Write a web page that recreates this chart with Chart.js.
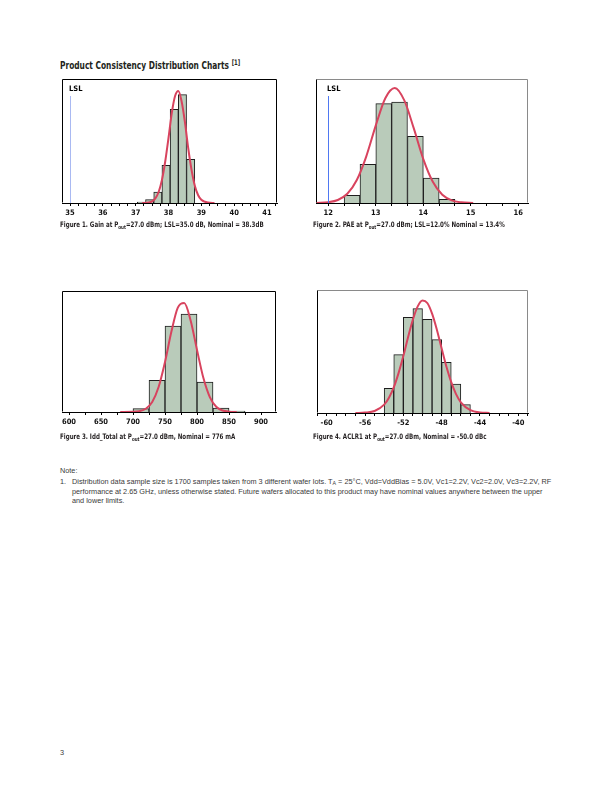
<!DOCTYPE html>
<html>
<head>
<meta charset="utf-8">
<script src="https://cdn.jsdelivr.net/npm/chart.js@4.4.0/dist/chart.umd.min.js"></script>
<style>
	body { margin: 0; background: #fff; }
	#page { position: relative; width: 612px; height: 792px; overflow: hidden; color: #231f20; }
	.cond { font-family: "Liberation Sans Narrow", "DejaVu Sans Condensed", sans-serif; font-weight: bold; transform-origin: 0 50%; }
	.abs { position: absolute; white-space: nowrap; line-height: 1; }
	canvas { position: absolute; }
	.title { left: 60px; top: 59px; font-size: 10.5px; transform: scaleX(0.79); }
	.title sup { font-size: 7.5px; vertical-align: 3.5px; }
	.cap { font-size: 7.5px; transform: scaleX(0.82); }
	.cap sub { font-size: 5.5px; vertical-align: -1.5px; }
	.note { font-family: "Liberation Sans", Arial, sans-serif; font-size: 7.3px; color: #3a3a3a; }
	.note sub { font-size: 5.3px; vertical-align: -1px; }
</style>
</head>
<body>
<div id="page">
	<div class="abs cond title">Product Consistency Distribution Charts <sup>[1]</sup></div>

	<canvas id="c1" width="235" height="156" style="left:52px; top:69px;"></canvas>
	<canvas id="c2" width="232" height="156" style="left:306px; top:69px;"></canvas>
	<canvas id="c3" width="234" height="153" style="left:52px; top:281px;"></canvas>
	<canvas id="c4" width="231" height="155" style="left:307px; top:280px;"></canvas>

	<div class="abs cond cap" style="left:60px; top:221px;">Figure 1. Gain at P<sub>out</sub>=27.0 dBm; LSL=35.0 dB, Nominal = 38.3dB</div>
	<div class="abs cond cap" style="left:313px; top:221px;">Figure 2. PAE at P<sub>out</sub>=27.0 dBm; LSL=12.0% Nominal = 13.4%</div>
	<div class="abs cond cap" style="left:60px; top:433px;">Figure 3. Idd_Total at P<sub>out</sub>=27.0 dBm, Nominal = 776 mA</div>
	<div class="abs cond cap" style="left:313px; top:433px;">Figure 4. ACLR1 at P<sub>out</sub>=27.0 dBm, Nominal = -50.0 dBc</div>

	<div class="abs note" style="left:60px; top:467px;">Note:</div>
	<div class="abs note" style="left:60px; top:478px;">1.</div>
	<div class="abs note" style="left:72px; top:478px;">Distribution data sample size is 1700 samples taken from 3 different wafer lots. T<sub>A</sub> = 25°C, Vdd=VddBias = 5.0V, Vc1=2.2V, Vc2=2.0V, Vc3=2.2V, RF</div>
	<div class="abs note" style="left:72px; top:488px;">performance at 2.65 GHz, unless otherwise stated. Future wafers allocated to this product may have nominal values anywhere between the upper</div>
	<div class="abs note" style="left:72px; top:497px;">and lower limits.</div>

	<div class="abs note" style="left:60px; top:749px;">3</div>
</div>

<script>
// histogram bins (left edge of each bin) and bar heights
const gainBins = [37.05, 37.3, 37.55, 37.8, 38.05, 38.3, 38.55];
const gainFreq = [1, 3.4, 11, 37.7, 93.7, 108.4, 43.7];
const gainFitX = [37.2, 37.4, 37.5, 37.6, 37.7, 37.8, 37.9, 38.0, 38.1, 38.2, 38.3, 38.4, 38.5, 38.6, 38.7, 38.8, 38.9, 39.0, 39.2, 39.4];
const gainFitY = [0, 0.5, 1.7, 4.7, 11, 23, 41.5, 65, 90, 107, 112, 101.5, 81, 55, 33.5, 17.5, 8, 3.2, 0.4, 0];

const paeBins = [12.333, 12.667, 13.0, 13.333, 13.667, 14.0, 14.333];
const paeFreq = [7.7, 38.7, 99.3, 101, 66.7, 25, 3.7];
const paeFitX = [11.75, 12.0, 12.2, 12.4, 12.6, 12.8, 13.0, 13.2, 13.4, 13.6, 13.8, 14.0, 14.2, 14.4, 14.6, 14.8, 15.05];
const paeFitY = [0.1, 0.8, 3, 9.2, 23, 46.7, 77.6, 104.8, 115, 102.6, 74.6, 43.9, 21.2, 8.2, 2.6, 0.7, 0];

const iddBins = [700, 725, 750, 775, 800, 825, 850];
const iddFreq = [3.3, 31.7, 86, 98, 30, 4, 1];
const iddFitX = [680, 700, 710, 720, 730, 740, 750, 760, 770, 780, 790, 800, 810, 820, 830, 840, 850, 862];
const iddFitY = [0, 0.2, 0.85, 3.3, 10.1, 25, 50, 80.4, 104.3, 109, 91.6, 62, 33.9, 14.9, 5.2, 1.5, 0.3, 0];

const aclrBins = [-54, -53, -52, -51, -50, -49, -48, -47, -46];
const aclrFreq = [24.7, 58.3, 95.7, 104.3, 93.7, 73.3, 50.7, 29, 8.3];
const aclrFitX = [-57, -56, -55, -54, -53.5, -53, -52.5, -52, -51.5, -51, -50.5, -50, -49.5, -49, -48.5, -48, -47.5, -47, -46.5, -46, -45, -44, -43];
const aclrFitY = [0.05, 0.4, 2, 8.4, 15.3, 25.6, 39.9, 57, 76, 93.5, 106.6, 112.5, 110, 99.4, 83.3, 64.5, 46.3, 30.8, 18.9, 10.7, 2.8, 0.5, 0.05];

const FONT = '"Liberation Sans Narrow", "DejaVu Sans Condensed", sans-serif';

// frame round the plot area, plus the LSL marker
const framePlugin = {
	id: 'frame',
	afterDatasetsDraw( chart, args, opts ) {
		const { ctx, chartArea: a } = chart;
		ctx.save();
		if ( opts.lsl !== undefined ) {
			const px = Math.round( chart.scales.x.getPixelForValue( opts.lsl ) ) + 0.5;
			ctx.strokeStyle = opts.lslColor;
			ctx.lineWidth = 1;
			ctx.beginPath();
			ctx.moveTo( px, a.top + 17 );
			ctx.lineTo( px, a.bottom );
			ctx.stroke();
			ctx.fillStyle = '#000';
			ctx.font = `bold 7.5px ${ FONT }`;
			ctx.textBaseline = 'middle';
			ctx.fillText( 'LSL', px - 1.5, a.top + 10.5 );
		}
		const l = Math.round( a.left ) + 0.5, t = Math.round( a.top ) + 0.5;
		const r = Math.round( a.right ) - 0.5, b = Math.round( a.bottom ) - 0.5;
		ctx.lineWidth = 1;
		ctx.strokeStyle = opts.far || '#000';
		ctx.beginPath();
		ctx.moveTo( l, t ); ctx.lineTo( r, t ); ctx.lineTo( r, b );
		ctx.stroke();
		ctx.strokeStyle = '#000';
		ctx.beginPath();
		ctx.moveTo( l, t ); ctx.lineTo( l, b );
		ctx.stroke();
		ctx.restore();
	},
};

function makeHist( id, cfg ) {
	const bars = cfg.bins.map( ( s, i ) => ( { x: s + cfg.width / 2, y: cfg.freq[ i ] } ) );
	const fit = cfg.fitX.map( ( x, i ) => ( { x, y: cfg.fitY[ i ] } ) );
	return new Chart( document.getElementById( id ), {
		data: {
			datasets: [
				{
					type: 'line',
					data: fit,
					borderColor: '#d8435e',
					borderWidth: 2,
					pointRadius: 0,
					cubicInterpolationMode: 'monotone',
					order: 0,
				},
				{
					type: 'bar',
					data: bars,
					backgroundColor: '#b9cbba',
					borderColor: '#1e1e1e',
					borderWidth: 1,
					barPercentage: 1,
					categoryPercentage: 1,
					order: 1,
				},
			],
		},
		options: {
			responsive: false,
			animation: false,
			devicePixelRatio: 1,
			layout: { padding: { left: 10, right: 10, top: 10, bottom: 0 } },
			plugins: {
				legend: { display: false },
				tooltip: { enabled: false },
				frame: { lsl: cfg.lsl, lslColor: cfg.lslColor, far: cfg.far },
			},
			scales: {
				x: {
					type: 'linear',
					offset: false,
					min: cfg.min,
					max: cfg.max,
					afterFit: ( s ) => { s.height = 22; },
					ticks: {
						stepSize: cfg.step,
						includeBounds: false,
						autoSkip: false,
						maxRotation: 0,
						padding: 3,
						color: '#111',
						font: { family: FONT, size: 7.5, weight: 'bold' },
						callback: ( v ) => {
							const k = Math.round( v / cfg.label );
							return Math.abs( v - k * cfg.label ) < 1e-6 ? String( k * cfg.label ) : '';
						},
					},
					grid: { offset: false, drawOnChartArea: false, tickLength: 3, color: '#000' },
					border: { color: '#000', width: 1 },
				},
				y: { display: false, min: 0, max: cfg.ymax },
			},
		},
		plugins: [ framePlugin ],
	} );
}

makeHist( 'c1', { bins: gainBins, freq: gainFreq, fitX: gainFitX, fitY: gainFitY, width: 0.25,
	min: 34.756, max: 41.305, step: 0.25, label: 1, ymax: 124, lsl: 35, lslColor: '#a9b9f2' } );
makeHist( 'c2', { bins: paeBins, freq: paeFreq, fitX: paeFitX, fitY: paeFitY, width: 1 / 3,
	min: 11.741, max: 16.204, step: 1 / 3, label: 1, ymax: 124, lsl: 12, lslColor: '#4f78f2', far: '#8a8a8a' } );
makeHist( 'c3', { bins: iddBins, freq: iddFreq, fitX: iddFitX, fitY: iddFitY, width: 25,
	min: 589.06, max: 923.4, step: 25, label: 50, ymax: 121 } );
makeHist( 'c4', { bins: aclrBins, freq: aclrFreq, fitX: aclrFitX, fitY: aclrFitY, width: 1,
	min: -61.01, max: -38.99, step: 1, label: 4, ymax: 123, far: '#8a8a8a' } );
</script>
</body>
</html>
